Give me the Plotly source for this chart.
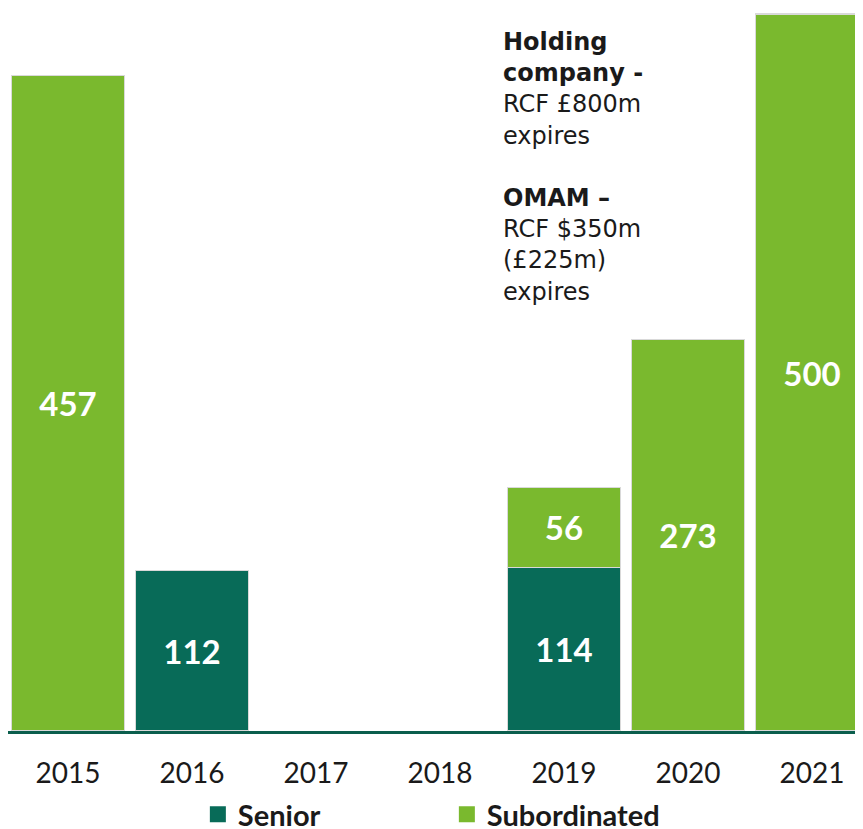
import plotly.graph_objects as go

years = ["2015", "2016", "2017", "2018", "2019", "2020", "2021"]
senior = [None, 112, None, None, 114, None, None]
subordinated = [457, None, None, None, 56, 273, 500]
series_names = ["Senior", "Subordinated"]

senior_color = "#086b58"
sub_color = "#7ab92e"

fig = go.Figure()
for name, vals, col in [(series_names[0], senior, senior_color),
                        (series_names[1], subordinated, sub_color)]:
    fig.add_trace(go.Bar(
        x=years, y=vals, name=name, showlegend=False,
        marker=dict(color=col, line=dict(color="#d9d9d9", width=1.2)),
        texttemplate="%{y}", textposition="inside", insidetextanchor="middle",
        textfont=dict(family="Lato", size=33, color="white", weight="bold"),
    ))
# legend entries with larger square swatches
for name, col in [(series_names[0], senior_color), (series_names[1], sub_color)]:
    fig.add_trace(go.Scatter(
        x=[None], y=[None], mode="markers", name=name,
        marker=dict(symbol="square", size=18, color=col),
    ))

fig.update_layout(
    width=863, height=845,
    margin=dict(l=0, r=0, t=0, b=122),
    barmode="stack", bargap=0.09,
    plot_bgcolor="white", paper_bgcolor="white",
    font=dict(family="Lato", color="#1a1a1a"),
    xaxis=dict(type="category", range=[-0.484, 6.476], showgrid=False,
               showline=True, linecolor="#0b5e4d", linewidth=3,
               ticks="", ticklabelstandoff=15,
               tickfont=dict(family="Lato", size=28, color="#1a1a1a")),
    yaxis=dict(range=[0, 504.2], visible=False),
    legend=dict(orientation="h", x=0.22, xanchor="left", y=-0.1155, yanchor="middle",
                font=dict(family="Lato", size=29, color="#1a1a1a", weight="bold"),
                entrywidth=204, traceorder="normal", itemsizing="trace"),
    showlegend=True,
)

fig.add_annotation(
    xref="paper", yref="paper", x=0.571, y=1 - 18 / 723,
    xanchor="left", yanchor="top", align="left", showarrow=False,
    text=("<b>Holding</b><br><b>company -</b><br>RCF £800m<br>expires<br><br>"
          "<b>OMAM –</b><br>RCF $350m<br>(£225m)<br>expires"),
    font=dict(family="DejaVu Sans", size=24, color="#1a1a1a"),
)

fig.write_html("out.html")
